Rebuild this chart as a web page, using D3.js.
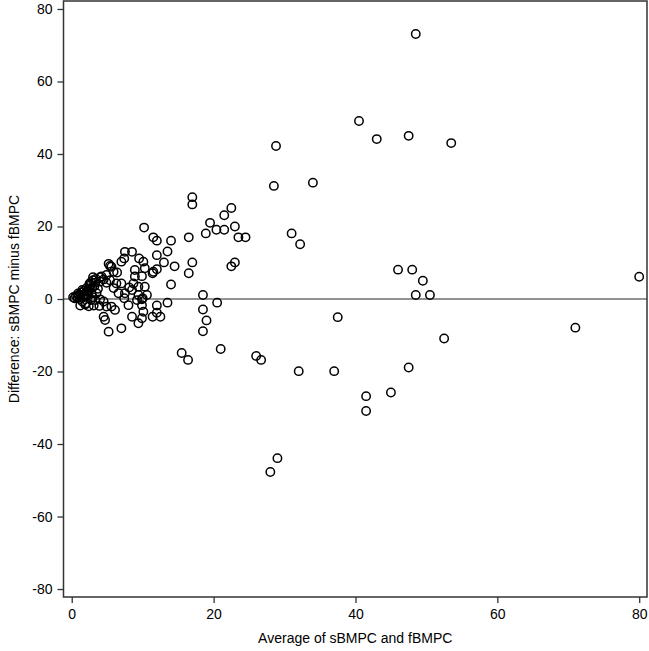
<!DOCTYPE html>
<html>
<head>
<meta charset="utf-8">
<script src="https://cdn.jsdelivr.net/npm/d3@7"></script>
<style>
  html, body { margin: 0; padding: 0; background: #fff; }
  svg { display: block; }
  text { font-family: "Liberation Sans", Arial, sans-serif; fill: #000; }
</style>
</head>
<body>
<svg id="chart" width="649" height="651"></svg>
<script>
// ---- data ----
const xTicks = [0, 20, 40, 60, 80];
const yTicks = [80, 60, 40, 20, 0, -20, -40, -60, -80];
const xTitle = "Average of sBMPC and fBMPC";
const yTitle = "Difference: sBMPC minus fBMPC";

// average of the two measurements
const avgValues = [
  // dense cluster near origin
  0.2, 0.4, 0.6, 0.8, 1.0, 1.2, 1.4, 1.5, 1.7, 1.9, 2.0, 2.1, 2.3, 2.4, 2.6, 2.7, 2.8, 3.0, 3.0, 3.1,
  3.3, 3.3, 3.5, 3.7, 3.9, 4.0, 4.0, 0.9, 1.2, 1.6, 2.2, 2.5, 3.0, 2.0,
  1.0, 1.3, 1.8, 2.2, 2.5, 2.9, 3.2, 2.7, 3.4, 1.5,
  // 4 - 11
  4.2, 4.9, 5.4, 4.0, 4.5, 6.3, 7.0, 8.7, 9.4, 10.3, 5.9, 4.9, 6.6, 7.5, 8.5, 9.4, 10.6, 9.2, 9.9,
  4.5, 4.9, 5.6, 6.1, 8.0, 9.9, 10.1, 4.5, 4.7, 8.5, 9.9, 9.4, 7.0, 5.2,
  7.5, 8.5, 7.0, 9.5, 10.1, 5.2, 5.6, 5.9, 8.9, 10.3, 11.5, 8.9, 9.9, 10.2, 7.4, 5.4, 6.4, 8.1, 10.0, 7.4,
  // 11 - 25
  11.5, 12.0, 14.0, 13.5, 12.0, 13.0, 14.5, 17.0, 16.5, 12.0, 11.4, 14.0, 13.5, 12.0, 12.0, 11.4, 12.5,
  17.0, 17.0, 22.5, 21.5, 19.5, 23.0, 18.9, 20.4, 21.5, 23.5, 24.5, 16.5, 22.5, 23.0,
  18.5, 20.5, 18.5, 19.0, 18.5, 15.5, 21.0, 16.4, 26.0, 26.7,
  // 25+
  28.5, 31.0, 32.2, 34.0, 28.8, 40.5, 43.0, 47.5, 53.5, 48.5,
  46.0, 48.0, 49.5, 48.5, 50.5, 80.0, 37.5, 71.0, 52.5, 32.0, 37.0, 47.5, 41.5, 45.0, 41.5, 29.0, 28.0
];
// difference of the two measurements
const diffValues = [
  0.5, 0.2, 0.8, 0.3, 1.2, 0.0, 1.8, -0.7, 2.2, -1.5, 0.8, 3.0, 2.4, -2.0, 3.8, -0.3, 1.5, 5.2, 0.5, -1.8,
  4.5, -0.3, 1.6, 2.8, -1.9, -0.1, 6.0, 1.5, -1.8, 0.4, 1.2, 4.2, 6.0, -1.2,
  0.8, 1.0, 1.3, 2.0, 2.8, 3.2, 3.6, 4.6, 5.5, 2.5,
  6.2, 6.6, 5.2, 4.8, 5.4, 4.3, 4.3, 4.3, 3.4, 3.4, 3.0, 4.5, 1.6, 1.6, 2.5, 1.1, 1.1, -0.3, -0.1,
  -0.7, -2.1, -2.1, -3.0, -1.7, -1.7, -3.5, -4.9, -5.8, -4.9, -5.3, -6.7, -8.1, -9.0,
  13.0, 13.0, 10.3, 11.2, 10.3, 9.7, 8.9, 7.5, 8.0, 8.5, 7.5, 6.2, 6.3, 19.7, 11.2, 9.1, 7.3, 3.2, 0.2, 0.2,
  17.0, 16.1, 16.1, 13.1, 12.1, 10.1, 9.0, 10.1, 7.1, 8.2, 7.1, 4.0, -1.0, -1.8, -3.8, -4.9, -4.9,
  28.1, 26.1, 25.1, 23.1, 21.0, 20.0, 18.1, 19.1, 19.1, 17.0, 17.0, 17.0, 9.0, 10.1,
  1.1, -1.0, -2.9, -5.9, -8.9, -14.9, -13.8, -16.8, -15.7, -16.8,
  31.2, 18.1, 15.1, 32.1, 42.2, 49.1, 44.1, 45.0, 43.0, 73.1,
  8.1, 8.1, 5.05, 1.1, 1.1, 6.15, -5.0, -7.9, -10.9, -19.9, -19.9, -18.9, -26.8, -25.8, -30.9, -43.9, -47.7
];

const points = avgValues.map((a, i) => ({ avg: a, diff: diffValues[i] }));

// ---- layout ----
const svg = d3.select("#chart");
const plotL = 63.5, plotR = 647, plotT = 1, plotB = 597;

const x = d3.scaleLinear().domain([-1.16, 81.1]).range([plotL, plotR]);
const y = d3.scaleLinear().domain([-82.2, 82.2]).range([plotB, plotT]);

// zero reference line
svg.append("line")
  .attr("x1", plotL).attr("x2", plotR)
  .attr("y1", y(0)).attr("y2", y(0))
  .attr("stroke", "#6e6e6e").attr("stroke-width", 1.5);

// points
svg.append("g").selectAll("circle")
  .data(points).enter().append("circle")
  .attr("cx", d => x(d.avg))
  .attr("cy", d => y(d.diff))
  .attr("r", 4.2)
  .attr("fill", "none")
  .attr("stroke", "#000")
  .attr("stroke-width", 1.5);

// frame
svg.append("rect")
  .attr("x", plotL).attr("y", plotT)
  .attr("width", plotR - plotL).attr("height", plotB - plotT)
  .attr("fill", "none").attr("stroke", "#333").attr("stroke-width", 1.5);

// axes
const fmt = d => String(d);
const xAxis = d3.axisBottom(x).tickValues(xTicks).tickSize(6).tickPadding(6).tickFormat(fmt);
const gx = svg.append("g").attr("transform", `translate(0,${plotB})`).call(xAxis);
gx.select(".domain").remove();
gx.selectAll("line").attr("stroke", "#333").attr("stroke-width", 1.3);
gx.selectAll("text").attr("font-size", 14)
  .style("font-family", '"Liberation Sans", Arial, sans-serif');

const yAxis = d3.axisLeft(y).tickValues(yTicks).tickSize(6).tickPadding(5).tickFormat(fmt);
const gy = svg.append("g").attr("transform", `translate(${plotL},0)`).call(yAxis);
gy.select(".domain").remove();
gy.selectAll("line").attr("stroke", "#333").attr("stroke-width", 1.3);
gy.selectAll("text").attr("font-size", 14)
  .style("font-family", '"Liberation Sans", Arial, sans-serif');

// titles
svg.append("text")
  .attr("x", (plotL + plotR) / 2)
  .attr("y", 643)
  .attr("text-anchor", "middle")
  .attr("font-size", 14)
  .text(xTitle);

svg.append("text")
  .attr("transform", `translate(19,${(plotT + plotB) / 2}) rotate(-90)`)
  .attr("text-anchor", "middle")
  .attr("font-size", 14)
  .text(yTitle);
</script>
</body>
</html>
